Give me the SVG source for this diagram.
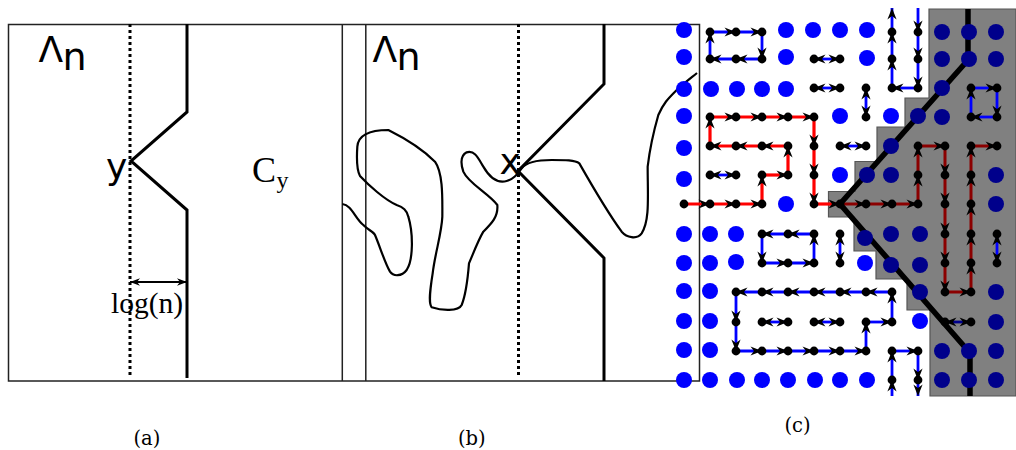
<svg xmlns="http://www.w3.org/2000/svg" width="1016" height="450" viewBox="0 0 1016 450">
<style>
.frame{fill:none;stroke:#222;stroke-width:1.5}
.thick{fill:none;stroke:#000;stroke-width:3}
.dot{fill:none;stroke:#000;stroke-width:3;stroke-dasharray:3 3}
.curve{fill:none;stroke:#000;stroke-width:6.600;stroke-linejoin:round}
.sans{font-family:"DejaVu Sans",sans-serif;font-size:36px;fill:#000}
.tnr{font-family:"Liberation Serif",serif;fill:#000}
.cap{font-family:"DejaVu Serif",serif;font-size:19.500px;fill:#000}
.b,.r,.m,.n{fill:none;stroke-width:2.8;marker-mid:url(#a);marker-end:url(#a)}
.b{stroke:#00f}.r{stroke:#f00;stroke-width:3.200}.m{stroke:#8b0000;stroke-width:3}.n{stroke:#00008b}
.two{marker-start:url(#a)}
#sites circle{fill:#00f}
#covered circle{fill:#00008b}
#nodes circle{fill:#000}
</style>
<defs>
<marker id="a" markerUnits="userSpaceOnUse" viewBox="-13 -6 15 12" refX="0" refY="0" markerWidth="15" markerHeight="12" orient="auto-start-reverse"><path d="M-11.500,-4.600L0,0L-11.500,4.600L-8,0Z" fill="#000"/></marker>
<marker id="s" markerUnits="userSpaceOnUse" viewBox="-11 -5 12 10" refX="0" refY="0" markerWidth="12" markerHeight="10" orient="auto-start-reverse"><path d="M-10,-3.800L0,0L-10,3.800L-7,0Z" fill="#000"/></marker>
</defs>

<g id="panel-frame">
<rect class="frame" x="8.500" y="24.500" width="691" height="356.500"/>
<path class="frame" d="M342.300,24.500V381M365.800,24.500V381"/>
</g>

<g id="panel-a">
<path class="dot" d="M130,24V378"/>
<path class="thick" d="M187,24V112L131,161L187,210V378"/>
<path d="M130,282H187" fill="none" stroke="#000" stroke-width="2" marker-start="url(#s)" marker-end="url(#s)"/>
<text class="sans" x="38.500" y="62">Λ</text><text class="sans" x="62.500" y="70" font-size="38" style="font-size:38px">n</text>
<text class="sans" x="106" y="179">y</text>
<text class="tnr" x="252" y="182" font-size="36">C</text><text class="tnr" x="276.500" y="188" font-size="24">y</text>
<text class="tnr" x="111" y="313" font-size="29.500">log(n)</text>
</g>

<g id="panel-b">
<path class="dot" d="M518.500,24V378"/>
<path class="thick" d="M604,24V84L518,171L604,258V381"/>
<path class="curve" transform="translate(335,90) scale(.33333)" d="M22,342C50,345 60,385 85,405C100,420 115,425 120,435C135,470 150,520 165,545C175,560 200,560 215,540C235,510 235,430 220,380C215,360 205,352 185,345C150,330 100,285 75,258C65,240 65,200 67,170C70,130 110,120 160,120C200,140 260,175 300,215C325,250 322,330 322,380C320,430 300,490 293,550C285,600 280,640 290,652C320,662 370,665 380,645C390,620 398,570 402,520C415,490 430,450 445,425C470,400 490,380 487,345C460,310 400,280 385,245C375,215 380,195 395,187C420,180 430,205 445,230C465,265 490,280 515,273C535,268 545,255 560,235C575,215 610,210 650,210C690,210 720,210 733,220C770,285 820,370 860,425C875,442 905,450 920,430C945,390 938,320 938,230C945,170 960,110 970,75C985,40 1000,25 1020,5C1040,-15 1060,-30 1086,-51"/>
<text class="sans" x="372.500" y="62">Λ</text><text class="sans" x="396.500" y="70" style="font-size:38px">n</text>
<text class="sans" x="499.500" y="174">x</text>
</g>

<g id="captions">
<text class="cap" x="133.500" y="445">(a)</text>
<text class="cap" x="458" y="445">(b)</text>
<text class="cap" x="784.500" y="432">(c)</text>
</g>

<path id="region" d="M929,9H1016V396H930V310H907V279H876V251H854V217H828.500V191.500H855V161.500H877V127H905V98H929Z" fill="#808080" stroke="#555" stroke-width="1.200"/>

<g id="sites">
<circle r="8" cx="684" cy="30"/><circle r="8" cx="786" cy="30"/><circle r="8" cx="813" cy="30"/><circle r="8" cx="840" cy="30"/><circle r="8" cx="867" cy="30"/>
<circle r="8" cx="684" cy="57"/><circle r="8" cx="786" cy="57"/><circle r="8" cx="867" cy="58"/>
<circle r="8" cx="684" cy="89"/><circle r="8" cx="711" cy="89"/><circle r="8" cx="737" cy="89"/><circle r="8" cx="762" cy="89"/><circle r="8" cx="786" cy="89"/>
<circle r="8" cx="684" cy="116"/><circle r="8" cx="840" cy="116"/><circle r="8" cx="891" cy="116"/>
<circle r="8" cx="684" cy="148"/>
<circle r="8" cx="684" cy="179"/><circle r="8" cx="840" cy="175"/>
<circle r="8" cx="786" cy="204"/>
<circle r="8" cx="684" cy="234"/><circle r="8" cx="710" cy="234"/><circle r="8" cx="736" cy="234"/>
<circle r="8" cx="684" cy="263"/><circle r="8" cx="710" cy="263"/><circle r="8" cx="736" cy="262"/><circle r="8" cx="865" cy="263"/>
<circle r="8" cx="684" cy="291"/><circle r="8" cx="710" cy="291"/>
<circle r="8" cx="684" cy="321"/><circle r="8" cx="710" cy="321"/><circle r="8" cx="920" cy="321"/>
<circle r="8" cx="684" cy="350"/><circle r="8" cx="710" cy="350"/>
<circle r="8" cx="684" cy="380"/><circle r="8" cx="710" cy="380"/><circle r="8" cx="737" cy="380"/><circle r="8" cx="762" cy="380"/><circle r="8" cx="788" cy="380"/><circle r="8" cx="815" cy="380"/><circle r="8" cx="840" cy="380"/><circle r="8" cx="867" cy="380"/>
</g>

<g id="connectors">
<polyline class="b" points="710,59 710,32"/>
<polyline class="b" points="710,32 736,32 762,32"/>
<polyline class="b" points="762,32 762,59"/>
<polyline class="b" points="762,59 736,59 710,59"/>
<polyline class="b two" points="814,59 840,59"/>
<polyline class="b two" points="814,88 840,88"/>
<polyline class="b two" points="710,175 736,175"/>
<polyline class="b two" points="840,146 866,146"/>
<polyline class="b two" points="866,88 866,117"/>
<polyline class="b two" points="840,234 840,263"/>
<polyline class="b two" points="997,234 997,263"/>
<polyline class="b two" points="762,322 788,322"/>
<polyline class="b two" points="814,322 840,322"/>
<polyline class="n two" points="945,322 971,322"/>
<polyline class="b" points="892,88 892,59 892,32 892,8"/>
<polyline class="b" points="918,8 918,32 918,59 918,88"/>
<polyline class="b" points="918,88 892,88"/>
<polyline class="b" points="971,117 971,88"/>
<polyline class="b" points="971,88 997,88"/>
<polyline class="b" points="997,88 997,117"/>
<polyline class="b" points="997,117 971,117"/>
<polyline class="b" points="814,263 814,234"/>
<polyline class="b" points="814,234 788,234 762,234"/>
<polyline class="b" points="762,234 762,263"/>
<polyline class="b" points="762,263 788,263 814,263"/>
<polyline class="b" points="892,292 866,292 840,292 814,292 788,292 762,292 736,292"/>
<polyline class="b" points="736,292 736,322 736,351"/>
<polyline class="b" points="736,351 762,351 788,351 814,351 840,351 866,351"/>
<polyline class="b" points="866,351 866,322"/>
<polyline class="b" points="866,322 892,322"/>
<polyline class="b" points="892,322 892,292"/>
<polyline class="b" points="892,396 892,380 892,351"/>
<polyline class="b" points="892,351 918,351"/>
<polyline class="b" points="918,351 918,380 918,396"/>
<polyline class="r" points="684,204 710,204 736,204 762,204"/>
<polyline class="r" points="762,204 762,175"/>
<polyline class="r" points="762,175 788,175"/>
<polyline class="r" points="788,175 788,146"/>
<polyline class="r" points="788,146 762,146 736,146 710,146"/>
<polyline class="r" points="710,146 710,117"/>
<polyline class="r" points="710,117 736,117 762,117 788,117 814,117"/>
<polyline class="r" points="814,117 814,146 814,175 814,204"/>
<polyline class="r" points="814,204 840,204"/>
<polyline class="m" points="840,204 866,204 892,204 918,204"/>
<polyline class="m" points="918,204 918,175 918,146"/>
<polyline class="m" points="918,146 945,146"/>
<polyline class="m" points="945,146 945,175 945,204 945,234 945,263 945,292"/>
<polyline class="m" points="945,292 971,292"/>
<polyline class="m" points="971,292 971,263 971,234 971,204 971,175 971,146"/>
<polyline class="m" points="971,146 997,146"/>
</g>

<g id="nodes">
<circle r="4.400" cx="710" cy="32"/><circle r="4.400" cx="736" cy="32"/><circle r="4.400" cx="762" cy="32"/><circle r="4.400" cx="892" cy="32"/><circle r="4.400" cx="918" cy="32"/>
<circle r="4.400" cx="710" cy="59"/><circle r="4.400" cx="736" cy="59"/><circle r="4.400" cx="762" cy="59"/><circle r="4.400" cx="814" cy="59"/><circle r="4.400" cx="840" cy="59"/><circle r="4.400" cx="892" cy="59"/><circle r="4.400" cx="918" cy="59"/>
<circle r="4.400" cx="814" cy="88"/><circle r="4.400" cx="840" cy="88"/><circle r="4.400" cx="866" cy="88"/><circle r="4.400" cx="892" cy="88"/><circle r="4.400" cx="918" cy="88"/><circle r="4.400" cx="971" cy="88"/><circle r="4.400" cx="997" cy="88"/>
<circle r="4.400" cx="710" cy="117"/><circle r="4.400" cx="736" cy="117"/><circle r="4.400" cx="762" cy="117"/><circle r="4.400" cx="788" cy="117"/><circle r="4.400" cx="814" cy="117"/><circle r="4.400" cx="866" cy="117"/><circle r="4.400" cx="971" cy="117"/><circle r="4.400" cx="997" cy="117"/>
<circle r="4.400" cx="710" cy="146"/><circle r="4.400" cx="736" cy="146"/><circle r="4.400" cx="762" cy="146"/><circle r="4.400" cx="788" cy="146"/><circle r="4.400" cx="814" cy="146"/><circle r="4.400" cx="840" cy="146"/><circle r="4.400" cx="866" cy="146"/><circle r="4.400" cx="918" cy="146"/><circle r="4.400" cx="945" cy="146"/><circle r="4.400" cx="971" cy="146"/><circle r="4.400" cx="997" cy="146"/>
<circle r="4.400" cx="710" cy="175"/><circle r="4.400" cx="736" cy="175"/><circle r="4.400" cx="762" cy="175"/><circle r="4.400" cx="788" cy="175"/><circle r="4.400" cx="814" cy="175"/><circle r="4.400" cx="918" cy="175"/><circle r="4.400" cx="945" cy="175"/><circle r="4.400" cx="971" cy="175"/>
<circle r="4.400" cx="684" cy="204"/><circle r="4.400" cx="710" cy="204"/><circle r="4.400" cx="736" cy="204"/><circle r="4.400" cx="762" cy="204"/><circle r="4.400" cx="814" cy="204"/><circle r="4.400" cx="840" cy="204"/><circle r="4.400" cx="866" cy="204"/><circle r="4.400" cx="892" cy="204"/><circle r="4.400" cx="918" cy="204"/><circle r="4.400" cx="945" cy="204"/><circle r="4.400" cx="971" cy="204"/>
<circle r="4.400" cx="762" cy="234"/><circle r="4.400" cx="788" cy="234"/><circle r="4.400" cx="814" cy="234"/><circle r="4.400" cx="840" cy="234"/><circle r="4.400" cx="945" cy="234"/><circle r="4.400" cx="971" cy="234"/><circle r="4.400" cx="997" cy="234"/>
<circle r="4.400" cx="762" cy="263"/><circle r="4.400" cx="788" cy="263"/><circle r="4.400" cx="814" cy="263"/><circle r="4.400" cx="840" cy="263"/><circle r="4.400" cx="945" cy="263"/><circle r="4.400" cx="971" cy="263"/><circle r="4.400" cx="997" cy="263"/>
<circle r="4.400" cx="736" cy="292"/><circle r="4.400" cx="762" cy="292"/><circle r="4.400" cx="788" cy="292"/><circle r="4.400" cx="814" cy="292"/><circle r="4.400" cx="840" cy="292"/><circle r="4.400" cx="866" cy="292"/><circle r="4.400" cx="892" cy="292"/><circle r="4.400" cx="945" cy="292"/><circle r="4.400" cx="971" cy="292"/>
<circle r="4.400" cx="736" cy="322"/><circle r="4.400" cx="762" cy="322"/><circle r="4.400" cx="788" cy="322"/><circle r="4.400" cx="814" cy="322"/><circle r="4.400" cx="840" cy="322"/><circle r="4.400" cx="866" cy="322"/><circle r="4.400" cx="892" cy="322"/><circle r="4.400" cx="945" cy="322"/><circle r="4.400" cx="971" cy="322"/>
<circle r="4.400" cx="736" cy="351"/><circle r="4.400" cx="762" cy="351"/><circle r="4.400" cx="788" cy="351"/><circle r="4.400" cx="814" cy="351"/><circle r="4.400" cx="840" cy="351"/><circle r="4.400" cx="866" cy="351"/><circle r="4.400" cx="892" cy="351"/><circle r="4.400" cx="918" cy="351"/>
<circle r="4.400" cx="892" cy="380"/><circle r="4.400" cx="918" cy="380"/>
</g>

<path id="boundary" d="M968,9V60L840,204L970,353V396" fill="none" stroke="#000" stroke-width="5.500"/>

<g id="covered">
<circle r="8" cx="942" cy="32"/><circle r="8" cx="969" cy="32"/><circle r="8" cx="996" cy="32"/>
<circle r="8" cx="942" cy="59"/><circle r="8" cx="969" cy="59"/><circle r="8" cx="996" cy="59"/>
<circle r="8" cx="942" cy="88"/>
<circle r="8" cx="918" cy="116"/><circle r="8" cx="942" cy="117"/>
<circle r="8" cx="891" cy="146"/>
<circle r="8" cx="867" cy="175"/><circle r="8" cx="891" cy="175"/><circle r="8" cx="996" cy="175"/>
<circle r="8" cx="996" cy="204"/>
<circle r="8" cx="865" cy="238"/><circle r="8" cx="891" cy="234"/><circle r="8" cx="920" cy="234"/>
<circle r="8" cx="891" cy="265"/><circle r="8" cx="920" cy="265"/>
<circle r="8" cx="920" cy="292"/><circle r="8" cx="996" cy="292"/>
<circle r="8" cx="996" cy="322"/>
<circle r="8" cx="942" cy="351"/><circle r="8" cx="969" cy="351"/><circle r="8" cx="996" cy="351"/>
<circle r="8" cx="942" cy="380"/><circle r="8" cx="969" cy="380"/><circle r="8" cx="996" cy="380"/>
</g>
</svg>
